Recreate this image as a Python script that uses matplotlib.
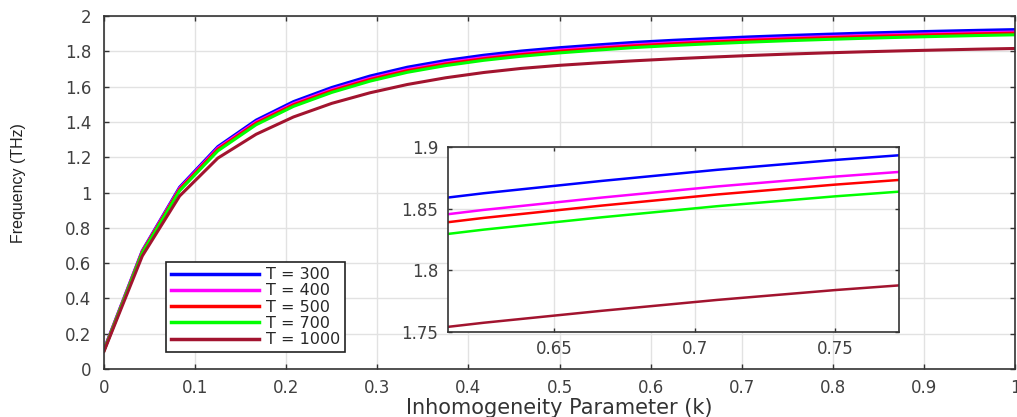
import numpy as np
import matplotlib
matplotlib.use("Agg")
import matplotlib.pyplot as plt
from matplotlib.ticker import FormatStrFormatter

plt.rcParams['font.family'] = ['DejaVu Sans']

#=============================================================================
# data: frequency (THz) vs inhomogeneity parameter k for several temperatures
#=============================================================================
k = [0.0, 0.042, 0.083, 0.125, 0.167, 0.208, 0.25, 0.292, 0.333, 0.375,
     0.417, 0.458, 0.5, 0.542, 0.583, 0.625, 0.667, 0.708, 0.75, 0.792,
     0.833, 0.875, 0.917, 0.958, 1.0]

freq_300 = [0.11, 0.67, 1.03, 1.26, 1.41, 1.515, 1.595, 1.66, 1.71, 1.748,
            1.778, 1.8015, 1.8205, 1.8365, 1.851, 1.8625, 1.8725, 1.8815,
            1.8895, 1.8965, 1.903, 1.9088, 1.914, 1.9187, 1.923]
freq_400 = [0.11, 0.667, 1.024, 1.252, 1.40, 1.504, 1.583, 1.647, 1.697,
            1.735, 1.765, 1.788, 1.807, 1.823, 1.8375, 1.849, 1.859, 1.868,
            1.876, 1.883, 1.8895, 1.8953, 1.9005, 1.9052, 1.9095]
freq_500 = [0.105, 0.663, 1.018, 1.245, 1.393, 1.497, 1.576, 1.64, 1.69,
            1.728, 1.758, 1.781, 1.80, 1.8165, 1.831, 1.8425, 1.8525, 1.8615,
            1.8695, 1.8765, 1.883, 1.8888, 1.894, 1.8987, 1.903]
freq_700 = [0.105, 0.658, 1.01, 1.236, 1.384, 1.488, 1.567, 1.631, 1.681,
            1.719, 1.749, 1.772, 1.791, 1.807, 1.8215, 1.833, 1.843, 1.852,
            1.86, 1.867, 1.8735, 1.8793, 1.8845, 1.8892, 1.8935]
freq_1000 = [0.10, 0.64, 0.98, 1.195, 1.33, 1.428, 1.505, 1.565, 1.612,
             1.65, 1.68, 1.703, 1.7205, 1.7345, 1.7465, 1.7575, 1.7672, 1.776,
             1.784, 1.791, 1.797, 1.8025, 1.8075, 1.812, 1.816]

temps = [300, 400, 500, 700, 1000]
series = [freq_300, freq_400, freq_500, freq_700, freq_1000]
colors = ['#0000ff', '#ff00ff', '#ff0000', '#00ff00', '#a2142f']

#=============================================================================
# main axes
#=============================================================================
fig = plt.figure(figsize=(10.17, 4.17), dpi=100)
ax = fig.add_axes([104/1017, 48/417, 911/1017, 353/417])

for T, f, c in zip(temps, series, colors):
    ax.plot(k, f, color=c, lw=2.2, label=f'T = {T}')

ax.set_xlim(0, 1)
ax.set_ylim(0, 2)
ax.set_xticks(np.arange(0, 1.01, 0.1))
ax.set_yticks(np.arange(0, 2.01, 0.2))
ax.xaxis.set_major_formatter(FormatStrFormatter('%g'))
ax.yaxis.set_major_formatter(FormatStrFormatter('%g'))
ax.grid(True, color='#e2e2e2', lw=1.0)
ax.set_axisbelow(True)
ax.tick_params(direction='in', top=True, right=True, length=3.5, width=1,
               color='#333333', labelcolor='#404040', labelsize=12)
ax.tick_params(axis='x', pad=7)
ax.tick_params(axis='y', pad=9)
for sp in ax.spines.values():
    sp.set_color('#333333')
    sp.set_linewidth(1.2)

ax.set_xlabel('Inhomogeneity Parameter (k)', fontsize=15, color='#333333')
ax.xaxis.set_label_coords(0.5, -0.082, transform=ax.transAxes)
ax.set_ylabel('Frequency (THz)', fontsize=11.5, color='#222222',
              family=['Liberation Sans Narrow', 'Liberation Sans'])
ax.yaxis.set_label_coords(-0.0856, 0.527)

leg = ax.legend(loc='lower left', bbox_to_anchor=(0.068, 0.048),
                borderaxespad=0, fontsize=11.5, handlelength=5.5,
                handletextpad=0.45, labelspacing=0.08, borderpad=0.3,
                fancybox=False, framealpha=1)
leg.get_frame().set_edgecolor('#222222')
leg.get_frame().set_linewidth(1.2)
for line in leg.get_lines():
    line.set_linewidth(2.5)
for txt in leg.get_texts():
    txt.set_color('#262626')

#=============================================================================
# zoomed inset
#=============================================================================
axin = fig.add_axes([448/1017, 85/417, 451/1017, 185/417])
for f, c in zip(series, colors):
    axin.plot(k, f, color=c, lw=1.8)

axin.set_xlim(0.6123, 0.7727)
axin.set_ylim(1.75, 1.9)
axin.set_xticks([0.65, 0.7, 0.75])
axin.set_yticks([1.75, 1.8, 1.85, 1.9])
axin.xaxis.set_major_formatter(FormatStrFormatter('%g'))
axin.yaxis.set_major_formatter(FormatStrFormatter('%g'))
axin.grid(True, color='#e2e2e2', lw=1.0)
axin.set_axisbelow(True)
axin.tick_params(direction='in', top=True, right=True, length=3, width=1,
                 color='#333333', labelcolor='#404040', labelsize=12)
axin.tick_params(axis='x', pad=6)
axin.tick_params(axis='y', pad=7)
for sp in axin.spines.values():
    sp.set_color('#333333')
    sp.set_linewidth(1.2)

fig.savefig('out.png', dpi=100)
